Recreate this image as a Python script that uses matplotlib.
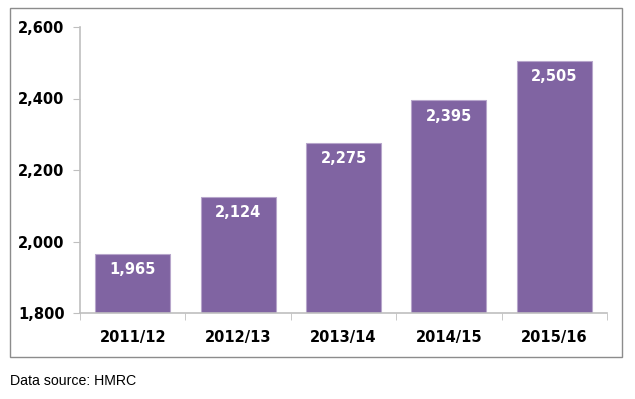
import matplotlib
matplotlib.use("Agg")
import matplotlib.pyplot as plt
from matplotlib.patches import Rectangle
from matplotlib.ticker import FuncFormatter, FixedLocator

categories = ["2011/12", "2012/13", "2013/14", "2014/15", "2015/16"]
values = [1965, 2124, 2275, 2395, 2505]
yticks = [1800, 2000, 2200, 2400, 2600]

bar_color = "#8064A2"
spine_color = "#BFBFBF"

fig = plt.figure(figsize=(6.35, 3.99), dpi=100)
fig.patches.append(Rectangle((10/635, 1 - 357/399), 612/635, 349/399,
                             transform=fig.transFigure, fill=False,
                             edgecolor="#8C8C8C", linewidth=1.0))

ax = fig.add_axes([80/635, 1 - 313/399, 527/635, 286/399])
x = list(range(len(categories)))
bars = ax.bar(x, values, width=0.71, color=bar_color, edgecolor="#B7A6CB",
              linewidth=0.8, bottom=0)
ax.set_ylim(1800, 2600)
ax.set_xlim(-0.5, len(categories) - 0.5)

for xi, v in zip(x, values):
    ax.text(xi, v - 44, f"{v:,}", ha="center", va="center", color="white",
            fontsize=10.5, fontweight="bold", family="DejaVu Sans")

ax.yaxis.set_major_locator(FixedLocator(yticks))
ax.yaxis.set_major_formatter(FuncFormatter(lambda v, p: f"{int(v):,}"))
ax.set_xticks(x)
ax.set_xticklabels(categories)
ax.set_xticks([i - 0.5 for i in range(len(categories) + 1)], minor=True)
ax.tick_params(axis="x", which="major", length=0, pad=12, labelsize=10.5)
ax.tick_params(axis="x", which="minor", length=5, color=spine_color, direction="out")
ax.tick_params(axis="y", length=5, color=spine_color, direction="out", pad=6, labelsize=10.5)
for lbl in ax.get_xticklabels() + ax.get_yticklabels():
    lbl.set_fontweight("bold")

for s in ["top", "right"]:
    ax.spines[s].set_visible(False)
for s in ["left", "bottom"]:
    ax.spines[s].set_color(spine_color)
    ax.spines[s].set_linewidth(1.2)

fig.text(10/635, 1 - 381/399, "Data source: HMRC", ha="left", va="center",
         fontsize=10.2, family="Liberation Sans")

fig.savefig("out.png", dpi=100)
